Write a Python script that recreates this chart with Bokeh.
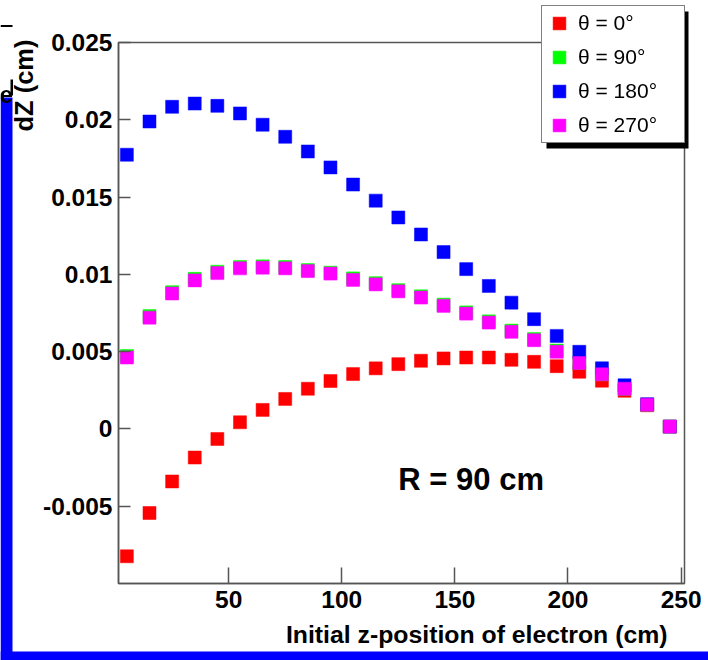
from bokeh.plotting import figure
from bokeh.models import (Range1d, FixedTicker, Legend, LegendItem, Label,
                          BoxAnnotation, Title)
from bokeh.embed import file_html
from bokeh.resources import INLINE

# ---------------- data ----------------
z_pos = [5, 15, 25, 35, 45, 55, 65, 75, 85, 95, 105, 115, 125,
         135, 145, 155, 165, 175, 185, 195, 205, 215, 225, 235, 245]

dz_theta0 = [-0.00824, -0.00544, -0.0034, -0.00185, -0.00065, 0.00043, 0.00123,
             0.00194, 0.0026, 0.0031, 0.00355, 0.00392, 0.00419, 0.00441,
             0.00456, 0.00462, 0.00462, 0.00447, 0.00434, 0.00406, 0.0037,
             0.00312, 0.00247, 0.00153, 0.00015]

dz_theta90 = [0.00472, 0.0073, 0.00885, 0.00971, 0.01017, 0.01048, 0.01052,
              0.01048, 0.01028, 0.01011, 0.00974, 0.00943, 0.00898, 0.00858,
              0.00804, 0.00754, 0.00696, 0.00636, 0.00582, 0.00507, 0.00428,
              0.00354, 0.0026, 0.00157, 0.00015]

dz_theta180 = [0.01774, 0.01989, 0.02084, 0.02105, 0.0209, 0.02041, 0.01968,
               0.0189, 0.01795, 0.01692, 0.01581, 0.01477, 0.01368, 0.01258,
               0.01144, 0.01034, 0.00925, 0.00817, 0.0071, 0.00602, 0.00499,
               0.00392, 0.00282, 0.0016, 0.00015]

dz_theta270 = [0.00462, 0.0072, 0.00876, 0.00961, 0.01008, 0.01039, 0.01043,
               0.01039, 0.01021, 0.01005, 0.00964, 0.00935, 0.0089, 0.0085,
               0.00796, 0.00746, 0.00688, 0.00628, 0.00574, 0.00499, 0.00426,
               0.00353, 0.0026, 0.00157, 0.00015]

series_labels = ["θ = 0°", "θ = 90°", "θ = 180°", "θ = 270°"]
series_colors = ["#ff0000", "#00ff00", "#0000ff", "#ff00ff"]

x_ticks = [50, 100, 150, 200, 250]
y_ticks = [-0.005, 0.0, 0.005, 0.01, 0.015, 0.02, 0.025]
y_tick_labels = ["-0.005", "0", "0.005", "0.01", "0.015", "0.02", "0.025"]

x_title = "Initial z-position of electron (cm)"
y_title = "dZ (cm)"
note_text = "R = 90 cm"
edge_text = "e"   # fragment of a neighbouring panel, cut by the crop

FONT = "Liberation Sans"
AXIS_COLOR = "#555555"

all_series = [dz_theta0, dz_theta90, dz_theta180, dz_theta270]

# ---------------- main figure ----------------
p = figure(width=708, height=660, output_backend="svg", toolbar_location=None,
           x_range=Range1d(1.3, 251.5), y_range=Range1d(-0.01, 0.025),
           min_border_left=118, min_border_right=24,
           min_border_top=42, min_border_bottom=77,
           background_fill_color="white", border_fill_color="white")

p.xgrid.visible = False
p.ygrid.visible = False
p.outline_line_color = AXIS_COLOR
p.outline_line_width = 1.5

for ax in (p.xaxis, p.yaxis):
    ax.axis_line_color = AXIS_COLOR
    ax.axis_line_width = 1.5
    ax.major_tick_line_color = AXIS_COLOR
    ax.major_tick_line_width = 1.5
    ax.major_tick_out = 0
    ax.minor_tick_in = 0
    ax.minor_tick_out = 0
    ax.major_label_text_font = FONT
    ax.major_label_text_font_style = "bold"
    ax.major_label_text_font_size = "24.5px"
    ax.major_label_text_color = "black"

p.xaxis.ticker = FixedTicker(ticks=x_ticks, minor_ticks=[])
p.xaxis.major_tick_in = 16
p.xaxis.major_label_standoff = 7

p.yaxis.ticker = FixedTicker(ticks=y_ticks, minor_ticks=[])
p.yaxis.major_label_overrides = {t: s for t, s in zip(y_ticks, y_tick_labels)}
p.yaxis.major_tick_in = 12
p.yaxis.major_label_standoff = 6

# axis titles, aligned to the axis end as in the reference
p.add_layout(Title(text=y_title, align="right", offset=-3, standoff=5,
                   text_font=FONT, text_font_style="bold", text_font_size="25.5px",
                   text_color="black"), "left")
p.add_layout(Title(text=x_title, align="right", offset=17, standoff=17,
                   text_font=FONT, text_font_style="bold", text_font_size="24.8px",
                   text_color="black"), "below")

for ys, col in zip(all_series, series_colors):
    p.scatter(z_pos, ys, marker="square", size=13, fill_color=col,
              line_color=col, line_alpha=0.5, line_width=1)

p.add_layout(Label(x=125, y=-0.0033, text=note_text, text_font=FONT,
                   text_font_style="bold", text_font_size="31px",
                   text_align="left", text_baseline="middle", text_color="black"))

# ---------------- transparent overlay (legend + page decorations) ----------------
# Its frame spans the whole page, so the legend is not clipped by the plot frame.
q = figure(width=708, height=660, output_backend="svg", toolbar_location=None,
           x_range=Range1d(0, 708), y_range=Range1d(660, 0),
           x_axis_type=None, y_axis_type=None,
           min_border_left=0, min_border_right=0, min_border_top=0, min_border_bottom=0,
           background_fill_alpha=0.0, border_fill_alpha=0.0, outline_line_color=None)
q.grid.visible = False
q.styles = {"position": "fixed", "left": "0px", "top": "0px",
            "pointer-events": "none", "z-index": "5"}

def deco(l, r, t, b, color):
    q.add_layout(BoxAnnotation(left=l, right=r, top=t, bottom=b, fill_color=color,
                               fill_alpha=1.0, line_color=None))

deco(0, 12, 97, 660, "#0000ff")      # blue page border, left
deco(0, 708, 651, 660, "#0000ff")    # blue page border, bottom
deco(0, 12, 24.5, 26.5, "black")     # neighbouring-panel line
deco(10, 12.5, 79, 95, "black")
deco(546, 688, 11, 148, "black")     # legend shadow

q.add_layout(Label(x=-1, y=94, text=edge_text, text_font=FONT, text_font_style="bold",
                   text_font_size="24px", text_align="left",
                   text_baseline="alphabetic", text_color="black"))

# legend swatches: hidden copies of the series (never drawn, only their style is used)
legend_renderers = [q.scatter(z_pos, ys, marker="square", size=13, fill_color=c,
                              line_color=c, line_alpha=0.5, visible=False)
                    for ys, c in zip(all_series, series_colors)]
items = [LegendItem(label=lab, renderers=[r])
         for lab, r in zip(series_labels, legend_renderers)]
legend = Legend(items=items, location=(541, 517), orientation="vertical",
                glyph_width=32, glyph_height=32, spacing=2, padding=1,
                label_standoff=3, label_width=105, margin=0, click_policy="none",
                label_text_font=FONT, label_text_font_size="21px",
                label_text_color="black", label_text_baseline="middle",
                border_line_color="black", border_line_width=1.5,
                background_fill_color="white", background_fill_alpha=1.0)
q.add_layout(legend)

open("out.html", "w").write(file_html([p, q], INLINE))
